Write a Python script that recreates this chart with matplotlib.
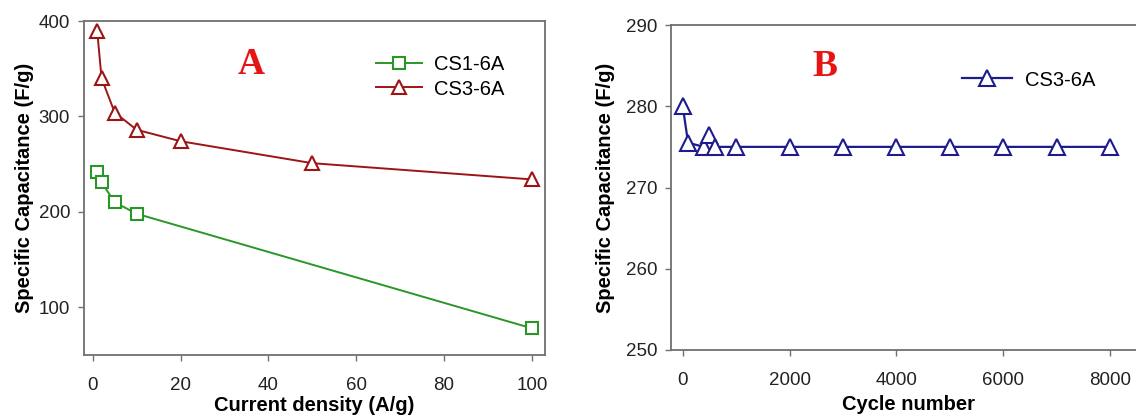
import matplotlib
matplotlib.use("Agg")
import matplotlib.pyplot as plt

# rate capability (panel A)
current_density = [1, 2, 5, 10, 20, 50, 100]
cs3_capacitance = [390, 340, 304, 286, 274, 251, 234]
cs1_density = [1, 2, 5, 10, 100]
cs1_capacitance = [242, 231, 210, 198, 78]

# cycling stability (panel B)
cycle_number = [0, 100, 400, 500, 600, 1000, 2000, 3000, 4000, 5000, 6000, 7000, 8000]
cycle_capacitance = [280, 275.5, 275, 276.5, 275, 275, 275, 275, 275, 275, 275, 275, 275]

GREEN = "#2a962a"
DARK_RED = "#9e1414"
NAVY = "#1c1c8c"
LABEL_RED = "#e61414"
SPINE = "#707070"

plt.rcParams["font.family"] = ["Liberation Sans", "DejaVu Sans"]

W, H = 1136, 416
fig = plt.figure(figsize=(W / 100, H / 100), dpi=100)


def px_axes(left, top, right, bottom):
    return fig.add_axes([left / W, (H - bottom) / H, (right - left) / W, (bottom - top) / H])


def style(ax):
    for side in ("top", "right", "left", "bottom"):
        ax.spines[side].set_color(SPINE)
        ax.spines[side].set_linewidth(1.3)
    ax.tick_params(direction="out", length=4, width=1, color=SPINE,
                   labelsize=13.5, labelcolor="#222222", top=False, right=False)
    ax.tick_params(axis="y", pad=6)
    ax.tick_params(axis="x", pad=12)


# panel A
ax1 = px_axes(84, 21, 545, 355)
ax1.plot(cs1_density, cs1_capacitance, color=GREEN, lw=1.4, marker="s", ms=8.5,
         mfc="white", mec=GREEN, mew=1.5, label="CS1-6A")
ax1.plot(current_density, cs3_capacitance, color=DARK_RED, lw=1.4, marker="^", ms=9.5,
         mfc="white", mec=DARK_RED, mew=1.5, label="CS3-6A")
ax1.set_xlim(-2, 103)
ax1.set_ylim(50, 400)
ax1.set_xticks([0, 20, 40, 60, 80, 100])
ax1.set_yticks([100, 200, 300, 400])
style(ax1)
ax1.set_xlabel("Current density (A/g)", fontsize=14.5, fontweight="bold", labelpad=1)
ax1.set_ylabel("Specific Capacitance (F/g)", fontsize=14.5, fontweight="bold")
ax1.yaxis.set_label_coords(-0.108, 0.5)
fig.text(251 / W, 1 - 64 / H, "A", family="Liberation Serif", fontweight="bold",
         fontsize=27, color=LABEL_RED, ha="center", va="center")
ax1.legend(loc="center left", bbox_to_anchor=(366 / W, 1 - 77 / H),
           bbox_transform=fig.transFigure, frameon=False, fontsize=14.5,
           handlelength=2.3, handletextpad=0.6, labelspacing=0.25, borderpad=0)

# panel B
ax2 = px_axes(671, 25, 1145, 350)
ax2.plot(cycle_number, cycle_capacitance, color=NAVY, lw=1.6, marker="^", ms=12,
         mfc="white", mec=NAVY, mew=1.5, label="CS3-6A")
ax2.set_xlim(-220, 8655)
ax2.set_ylim(250, 290)
ax2.set_xticks([0, 2000, 4000, 6000, 8000])
ax2.set_yticks([250, 260, 270, 280, 290])
style(ax2)
ax2.set_xlabel("Cycle number", fontsize=14.5, fontweight="bold", labelpad=4)
ax2.set_ylabel("Specific Capacitance (F/g)", fontsize=14.5, fontweight="bold")
ax2.yaxis.set_label_coords(-0.118, 0.5)
fig.text(825 / W, 1 - 67 / H, "B", family="Liberation Serif", fontweight="bold",
         fontsize=27, color=LABEL_RED, ha="center", va="center")
ax2.legend(loc="center left", bbox_to_anchor=(952 / W, 1 - 80 / H),
           bbox_transform=fig.transFigure, frameon=False, fontsize=14.5,
           handlelength=2.5, handletextpad=0.6, borderpad=0)

fig.savefig("out.png", dpi=100)
